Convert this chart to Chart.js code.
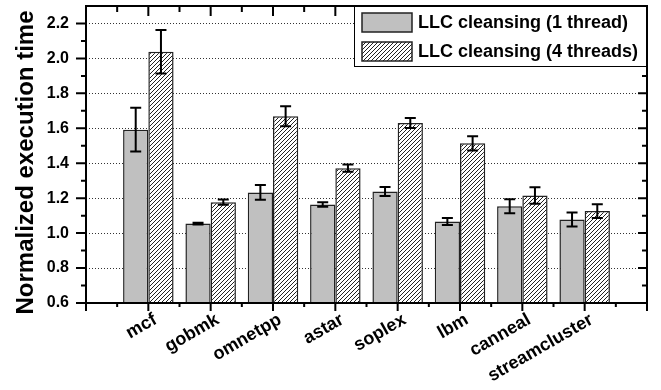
<!DOCTYPE html>
<html><head><meta charset="utf-8">
<script src="https://cdn.jsdelivr.net/npm/chart.js@4/dist/chart.umd.min.js"></script>
<style>html,body{margin:0;padding:0;background:#fff}#wrap{width:661px;height:390px;position:relative}</style>
</head><body><div id="wrap"><canvas id="c" width="661" height="390"></canvas></div>
<script>
const categories = ['mcf','gobmk','omnetpp','astar','soplex','lbm','canneal','streamcluster'];
const seriesNames = ['LLC cleansing (1 thread)','LLC cleansing (4 threads)'];
const oneThread = [1.592,1.055,1.233,1.164,1.238,1.066,1.154,1.078];
const oneThreadErr = [0.125,0.005,0.042,0.013,0.026,0.020,0.040,0.040];
const fourThreads = [2.038,1.177,1.669,1.372,1.630,1.514,1.215,1.126];
const fourThreadsErr = [0.125,0.015,0.057,0.021,0.029,0.041,0.047,0.039];
const yTicks = [0.6,0.8,1.0,1.2,1.4,1.6,1.8,2.0,2.2];
const yMinorTicks = [0.7,0.9,1.1,1.3,1.5,1.7,1.9,2.1];
const yMin = 0.6, yMax = 2.3;
const yTitle = 'Normalized execution time';

const FONT = '"Liberation Sans", Arial, Helvetica, sans-serif';
const GREY = '#c0c0c0';

function makeHatch() {
  const p = document.createElement('canvas');
  p.width = 4; p.height = 4;
  const g = p.getContext('2d');
  g.fillStyle = '#fff'; g.fillRect(0,0,4,4);
  g.fillStyle = '#222';
  for (let i = 0; i < 4; i++) g.fillRect(i, 3 - i, 1, 1);
  return document.getElementById('c').getContext('2d').createPattern(p, 'repeat');
}
const hatch = makeHatch();

const errs = [oneThreadErr, fourThreadsErr];

const framePlugin = {
  id: 'frame',
  beforeDatasetsDraw(chart) {
    const {ctx, chartArea: a, scales: {y}} = chart;
    ctx.save();
    ctx.strokeStyle = '#333'; ctx.lineWidth = 1; ctx.setLineDash([1,2]);
    yTicks.forEach(v => {
      if (v === yMin) return;
      const py = Math.round(y.getPixelForValue(v)) + 0.5;
      ctx.beginPath(); ctx.moveTo(a.left, py); ctx.lineTo(a.right, py); ctx.stroke();
    });
    ctx.restore();
  },
  afterDatasetsDraw(chart) {
    const {ctx, chartArea: a, scales: {x, y}} = chart;
    ctx.save();
    // error bars
    ctx.strokeStyle = '#000'; ctx.lineWidth = 2;
    chart.data.datasets.forEach((ds, di) => {
      const meta = chart.getDatasetMeta(di);
      meta.data.forEach((bar, i) => {
        const v = ds.data[i].y, e = errs[di][i];
        const y1 = y.getPixelForValue(v + e), y2 = y.getPixelForValue(v - e);
        const cx = bar.x;
        ctx.beginPath();
        ctx.moveTo(cx, y1); ctx.lineTo(cx, y2);
        ctx.moveTo(cx - 5.5, y1); ctx.lineTo(cx + 5.5, y1);
        ctx.moveTo(cx - 5.5, y2); ctx.lineTo(cx + 5.5, y2);
        ctx.stroke();
      });
    });
    // frame
    ctx.lineWidth = 2;
    ctx.strokeRect(a.left, a.top, a.right - a.left, a.bottom - a.top);
    ctx.beginPath();
    for (let v = 0; v <= 9; v++) {
      const px = x.getPixelForValue(v);
      ctx.moveTo(px, a.bottom); ctx.lineTo(px, a.bottom + 8);
      ctx.moveTo(px, a.top); ctx.lineTo(px, a.top + 10);
    }
    for (let v = 0.5; v < 9; v += 1) {
      const px = x.getPixelForValue(v);
      ctx.moveTo(px, a.bottom); ctx.lineTo(px, a.bottom + 4);
      ctx.moveTo(px, a.top); ctx.lineTo(px, a.top + 6);
    }
    yTicks.forEach(v => {
      const py = y.getPixelForValue(v);
      ctx.moveTo(a.left, py); ctx.lineTo(a.left - 10, py);
      ctx.moveTo(a.right, py); ctx.lineTo(a.right - 9, py);
    });
    yMinorTicks.forEach(v => {
      const py = y.getPixelForValue(v);
      ctx.moveTo(a.left, py); ctx.lineTo(a.left - 5, py);
      ctx.moveTo(a.right, py); ctx.lineTo(a.right - 5, py);
    });
    ctx.stroke();
    // legend
    const lx = 354, ly = a.top, lw = a.right - 354, lh = 60;
    ctx.fillStyle = '#fff';
    ctx.fillRect(lx, ly, lw, lh);
    ctx.lineWidth = 1; ctx.strokeStyle = '#000';
    ctx.strokeRect(lx + 0.5, ly + 0.5, lw - 1, lh);
    const fills = [GREY, hatch];
    [13, 42].forEach((sy, i) => {
      ctx.fillStyle = fills[i];
      ctx.fillRect(362, sy, 50, 19);
      ctx.lineWidth = 1.5; ctx.strokeStyle = '#222';
      ctx.strokeRect(362, sy, 50, 19);
      ctx.fillStyle = '#000';
      ctx.font = 'bold 18px ' + FONT;
      ctx.textAlign = 'left'; ctx.textBaseline = 'middle';
      ctx.fillText(seriesNames[i], 418, sy + 10);
    });
    // y title
    ctx.translate(33, 162.5);
    ctx.rotate(-Math.PI / 2);
    ctx.font = 'bold 24px ' + FONT;
    ctx.textAlign = 'center'; ctx.textBaseline = 'alphabetic';
    ctx.fillText(yTitle, 0, 0);
    ctx.restore();
  }
};

new Chart(document.getElementById('c'), {
  type: 'bar',
  data: {
    datasets: [
      { label: seriesNames[0], data: oneThread.map((v, i) => ({x: i + 1, y: v})),
        backgroundColor: GREY, borderColor: '#222', borderWidth: 1.5, base: yMin },
      { label: seriesNames[1], data: fourThreads.map((v, i) => ({x: i + 1, y: v})),
        backgroundColor: hatch, borderColor: '#222', borderWidth: 1.5, base: yMin }
    ]
  },
  options: {
    responsive: false, animation: false, devicePixelRatio: 1,
    layout: { padding: { left: 0, right: 14, top: 6, bottom: 0 } },
    datasets: { bar: { categoryPercentage: 0.81, barPercentage: 1.0 } },
    plugins: { legend: { display: false }, tooltip: { enabled: false } },
    scales: {
      x: {
        type: 'linear', min: 0, max: 9, offset: false,
        grid: { display: false, drawTicks: false, offset: false }, border: { display: false },
        afterBuildTicks: s => { s.ticks = [0,1,2,3,4,5,6,7,8,9].map(v => ({value: v})); },
        afterFit: s => { s.height = 87; s.paddingLeft = 0; s.paddingRight = 0; },
        ticks: {
          autoSkip: false, minRotation: 30, maxRotation: 30, padding: 6, labelOffset: 7,
          color: '#000', font: { family: FONT, size: 18, weight: 'bold' },
          callback: v => categories[v - 1] || ''
        }
      },
      y: {
        min: yMin, max: yMax,
        grid: { display: false, drawTicks: false }, border: { display: false },
        afterBuildTicks: s => { s.ticks = yTicks.map(v => ({value: v})); },
        afterFit: s => { s.width = 86; s.paddingTop = 0; s.paddingBottom = 0; },
        ticks: {
          padding: 17, color: '#000', font: { family: FONT, size: 16, weight: 'bold' },
          callback: v => v.toFixed(1)
        }
      }
    }
  },
  plugins: [framePlugin]
});
</script></body></html>
